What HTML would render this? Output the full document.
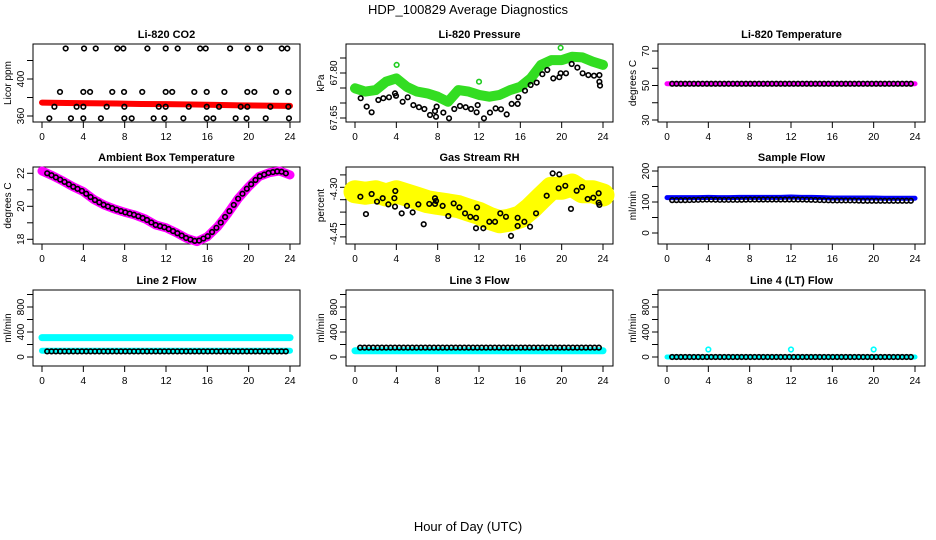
<!DOCTYPE html>
<html><head><meta charset="utf-8"><style>
body{margin:0;background:#fff}
svg{display:block;font-family:"Liberation Sans",sans-serif}
</style></head><body>
<svg id="c" width="936" height="540" viewBox="0 0 936 540">
<text x="468" y="14" text-anchor="middle" font-size="13">HDP_100829  Average Diagnostics</text>
<text x="468" y="531" text-anchor="middle" font-size="13">Hour of Day (UTC)</text>
</svg>
<script>
// ---- data ----
const hourTicks=[0,4,8,12,16,20,24];
// CO2
const co2RedHours=[0,2.4,4.8,7.2,9.6,12,14.4,16.8,19.2,21.6,24];
const co2RedVals=[374.5,374,373.8,373.5,373,372.8,372.5,372,371.5,371.2,371];
const co2BlkHours=[2.29,4.07,5.2,7.29,7.87,10.2,11.97,13.13,15.3,15.84,18.2,19.9,21.1,23.2,23.74,
1.74,4.0,4.65,6.8,7.94,9.7,11.97,12.6,14.74,15.94,17.65,19.87,20.55,22.65,23.84,
1.2,3.35,4.0,6.26,7.97,11.3,11.97,14.2,15.94,17.13,19.23,19.87,22.1,23.84,
0.71,2.8,4.0,5.7,7.97,8.68,10.8,11.84,13.68,15.94,16.58,18.74,19.8,21.65,23.9];
const co2BlkVals=[433,433,433,433,433,433,433,433,433,433,433,433,433,433,433,
386,386,386,386,386,386,386,386,386,386,386,386,386,386,386,
370,370,370,370,370,370,370,370,370,370,370,370,370,370,
357.5,357.5,357.5,357.5,357.5,357.5,357.5,357.5,357.5,357.5,357.5,357.5,357.5,357.5,357.5];
// Pressure
const hourly=[0,1,2,3,4,5,6,7,8,9,10,11,12,13,14,15,16,17,18,19,20,21,22,23,24];
const presGreen=[67.749,67.738,67.743,67.771,67.782,67.754,67.738,67.732,67.721,67.704,67.743,67.738,67.727,67.721,67.727,67.743,67.754,67.782,67.827,67.843,67.843,67.854,67.852,67.838,67.827];
const presGreenOutH=[4.03,12.0,19.9];
const presGreenOutV=[67.827,67.771,67.884];
const presBlkH=[0.55,1.13,1.61,2.26,2.74,3.29,3.87,3.97,4.61,5.1,5.65,6.19,6.71,7.26,7.74,7.9,7.84,8.55,9.1,9.61,10.16,10.71,11.23,11.77,11.87,12.48,13.06,13.61,14.13,14.68,15.16,15.74,15.81,16.45,17,17.58,18.13,18.61,19.19,19.77,19.9,20.42,20.97,21.52,22.03,22.58,23.13,23.65,23.65,23.71];
const presBlkV=[67.716,67.688,67.669,67.710,67.716,67.719,67.732,67.724,67.704,67.719,67.693,67.686,67.680,67.660,67.673,67.688,67.654,67.668,67.649,67.680,67.690,67.686,67.680,67.669,67.693,67.649,67.668,67.682,67.679,67.662,67.697,67.697,67.719,67.741,67.760,67.768,67.796,67.810,67.782,67.786,67.799,67.799,67.830,67.818,67.799,67.793,67.791,67.793,67.771,67.758];
// Li-820 temperature
const tempPink=[51,51,51,51,51,51,51,51,51,51,51,51,51,51,51,51,51,51,51,51,51,51,51,51,51];
const tempBlk=[51,51,51,51,51,51,51,51,51,51,51,51,51,51,51,51,51,51,51,51,51,51,51,51,51];
// Ambient box
const ambVals=[22.14,21.86,21.54,21.19,20.89,20.42,20.08,19.84,19.64,19.47,19.23,18.87,18.7,18.4,18.06,17.86,18.16,18.77,19.58,20.48,21.19,21.8,22.04,22.14,21.9];
// RH
const rhYellow=[-4.318,-4.324,-4.318,-4.331,-4.318,-4.331,-4.344,-4.358,-4.365,-4.371,-4.378,-4.392,-4.405,-4.425,-4.439,-4.432,-4.419,-4.385,-4.344,-4.304,-4.304,-4.291,-4.318,-4.318,-4.331];
const rhBlkH=[0.52,1.06,1.61,2.13,2.68,3.23,3.81,3.87,3.9,4.52,5.03,5.58,6.13,6.65,7.19,7.74,7.74,7.84,8.48,9.03,9.55,10.1,10.65,11.16,11.71,11.81,11.71,12.42,13,13.55,14.06,14.61,15.1,15.74,15.74,16.39,16.94,17.52,18.55,19.13,19.71,19.77,20.35,20.9,21.45,21.97,22.52,23.06,23.58,23.58,23.65];
const rhBlkV=[-4.338,-4.408,-4.327,-4.358,-4.344,-4.369,-4.344,-4.378,-4.315,-4.405,-4.375,-4.401,-4.369,-4.449,-4.367,-4.344,-4.367,-4.355,-4.375,-4.416,-4.365,-4.381,-4.405,-4.419,-4.423,-4.381,-4.465,-4.465,-4.439,-4.439,-4.405,-4.419,-4.496,-4.456,-4.423,-4.439,-4.459,-4.405,-4.334,-4.244,-4.304,-4.248,-4.294,-4.387,-4.314,-4.299,-4.347,-4.342,-4.324,-4.362,-4.371];
// flows
const sampleBlue=[114,114,114,114,115,114,114,115,115,115,115,115,116,115,115,114,113,113,113,113,113,112,112,112,112];
const sampleBlk=[106,106,106,107,108,107,107,107,108,108,108,108,108,108,107,106,105,105,105,104,104,104,104,104,104];
const line2CyanHi=[310,310,310,310,310,310,310,310,310,310,310,310,310,310,310,310,310,310,310,310,310,310,310,310,310];
const line2CyanLo=[100,100,100,100,100,100,100,100,100,100,100,100,100,100,100,100,100,100,100,100,100,100,100,100,100];
const line2Blk=[90,90,90,90,90,90,90,90,90,90,90,90,90,90,90,90,90,90,90,90,90,90,90,90,90];
const line3Cyan=[100,100,100,100,100,100,100,100,100,100,100,100,100,100,100,100,100,100,100,100,100,100,100,100,100];
const line3Blk=[150,150,150,150,150,150,150,150,150,150,150,150,150,150,150,150,150,150,150,150,150,150,150,150,150];
const line4Cyan=[0,0,0,0,0,0,0,0,0,0,0,0,0,0,0,0,0,0,0,0,0,0,0,0,0];
const line4Blk=[0,0,0,0,0,0,0,0,0,0,0,0,0,0,0,0,0,0,0,0,0,0,0,0,0];
const line4OutH=[4,12,20];
const line4OutV=[120,120,120];

// ---- drawing ----
const svg=document.getElementById('c');
const NS='http://www.w3.org/2000/svg';
function mk(tag,attrs,parent){const e=document.createElementNS(NS,tag);for(const k in attrs)e.setAttribute(k,attrs[k]);(parent||svg).appendChild(e);return e;}
const cols=[33,346,658], colW=267;
const rows=[{t:44,b:122},{t:167,b:244},{t:290,b:366}];
function panel(ci,ri,title,ylab,y0,p0,y1,p1,ticks,labels,labelPos){
  const L=cols[ci],R=L+colW,T=rows[ri].t,B=rows[ri].b;
  const g=mk('g',{});
  
  
  const xs=h=>L+9+h*(colW-19)/24;
  const ys=v=>p0+(v-y0)*(p1-p0)/(y1-y0);
  const t=mk('text',{x:(L+R)/2,y:T-6,'text-anchor':'middle','font-size':11,'font-weight':'bold'},g);t.textContent=title;
  
  
  const yl=mk('text',{transform:`translate(${L-22},${(T+B)/2}) rotate(-90)`,'text-anchor':'middle','font-size':10},g);yl.textContent=ylab;
  
  
  const box=mk('rect',{x:L,y:T,width:R-L,height:B-T,fill:'none',stroke:'#000','stroke-width':1},g);
  
  
  hourTicks.forEach(h=>{
    mk('line',{x1:xs(h),x2:xs(h),y1:B,y2:B+6,stroke:'#000'},g);
    const tx=mk('text',{x:xs(h),y:B+18,'text-anchor':'middle','font-size':10},g);tx.textContent=h;
    
    
  });
  ticks.forEach(v=>mk('line',{x1:L-6,x2:L,y1:ys(v),y2:ys(v),stroke:'#000'},g));
  labels.forEach((s,i)=>{const v=labelPos[i];const tx=mk('text',{transform:`translate(${L-9},${ys(v)}) rotate(-90)`,'text-anchor':'middle','font-size':10},g);tx.textContent=s;
    
    });
  return {g,xs,ys,L,R,T,B};
}
function band(p,hs,vs,color,w){
  const d=hs.map((h,i)=>(i?'L':'M')+p.xs(h)+' '+p.ys(vs[i])).join('');
  const e=mk('path',{d,fill:'none',stroke:color,'stroke-width':w,'stroke-linejoin':'round','stroke-linecap':'round'},p.g);
  
  
}
function pts(p,hs,vs,color,r){
  hs.forEach((h,i)=>{const c=mk('circle',{cx:p.xs(h),cy:p.ys(vs[i]),r:r||2.3,fill:'none',stroke:color,'stroke-width':1.6},p.g);
    
    });
}
function lookup(arr,h){const i=Math.floor(h),f=h-i;return i>=arr.length-1?arr[arr.length-1]:arr[i]*(1-f)+arr[i+1]*f;}
function dense(p,arr,color,start){const hs=[],vs=[];for(let h=start;h<=23.95;h+=0.42){hs.push(h);vs.push(lookup(arr,h));}pts(p,hs,vs,color);}

// row 1
let p=panel(0,0,'Li-820 CO2','Licor ppm',360,116,400,79,[360,380,400,420],['360','400'],[360,400]);
band(p,co2RedHours,co2RedVals,'#f00',6);
pts(p,co2BlkHours,co2BlkVals,'#000');
p=panel(1,0,'Li-820 Pressure','kPa',67.65,118,67.80,73,[67.65,67.70,67.75,67.80,67.85],['67.65','67.80'],[67.65,67.80]);
band(p,hourly,presGreen,'#33dd22',10);
pts(p,presGreenOutH,presGreenOutV,'#2c2');
pts(p,presBlkH,presBlkV,'#000');
p=panel(2,0,'Li-820 Temperature','degrees C',30,120,70,51,[30,40,50,60,70],['30','50','70'],[30,50,70]);
band(p,hourly,tempPink,'#f0f',5);
dense(p,tempBlk,'#000',0.5);
// row 2
p=panel(0,1,'Ambient Box Temperature','degrees C',18,239.3,22,173.3,[18,19,20,21,22],['18','20','22'],[18,20,22]);
band(p,hourly,ambVals,'#f0f',9);
dense(p,ambVals,'#000',0.5);
p=panel(1,1,'Gas Stream RH','percent',-4.30,187.3,-4.35,199.7,[-4.25,-4.30,-4.35,-4.40,-4.45,-4.50],['-4.30','-4.45'],[-4.307,-4.487]);
band(p,hourly,rhYellow,'#ff0',23);
pts(p,rhBlkH,rhBlkV,'#000');
p=panel(2,1,'Sample Flow','ml/min',0,233,200,171,[0,50,100,150,200],['0','100','200'],[0,100,200]);
band(p,hourly,sampleBlue,'#00f',5);
dense(p,sampleBlk,'#000',0.5);
// row 3
const fT=[0,200,400,600,800,1000],fL=['0','400','800'],fP=[0,400,800];
p=panel(0,2,'Line 2 Flow','ml/min',0,357,400,332,fT,fL,fP);
band(p,hourly,line2CyanHi,'#0ff',7);
band(p,hourly,line2CyanLo,'#0ff',6);
dense(p,line2Blk,'#000',0.5);
p=panel(1,2,'Line 3 Flow','ml/min',0,357,400,332,fT,fL,fP);
band(p,hourly,line3Cyan,'#0ff',7);
dense(p,line3Blk,'#000',0.5);
p=panel(2,2,'Line 4 (LT) Flow','ml/min',0,357,400,332,fT,fL,fP);
band(p,hourly,line4Cyan,'#0ff',5);
pts(p,line4OutH,line4OutV,'#0ff');
dense(p,line4Blk,'#000',0.5);
</script>
</body></html>
